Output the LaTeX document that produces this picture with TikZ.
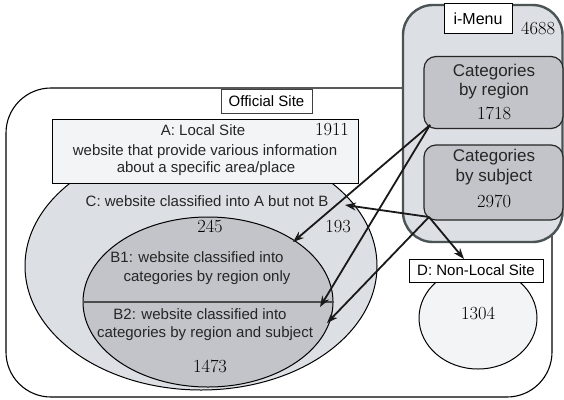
\documentclass[tikz,border=0pt]{standalone}
\usepackage{fontspec}
\usetikzlibrary{arrows.meta,shapes.geometric}
\newfontfamily\labelfont{Liberation Sans}
\definecolor{paleblue}{HTML}{DCDFE4}
\definecolor{midgray}{HTML}{C2C4C9}
\definecolor{boxwhite}{HTML}{F3F4F6}
\definecolor{slate}{HTML}{4B5454}
\tikzset{
  lbl/.style={font=\labelfont\fontsize{15}{18}\selectfont, text=black!85, inner sep=0pt, anchor=mid},
  biglbl/.style={font=\labelfont\fontsize{17}{20}\selectfont, text=black!85, inner sep=0pt, anchor=mid},
  num/.style={font=\fontsize{18.5}{21}\selectfont, text=black, inner sep=0pt, anchor=mid},
  tagbox/.style={draw=black!75, fill=white, line width=0.7pt, inner sep=0pt},
  catbox/.style={draw=black!85, fill=midgray, rounded corners=12pt, line width=1.2pt,
                 minimum width=139pt, minimum height=72pt, inner sep=0pt},
  arr/.style={-{Stealth[length=11pt,width=8pt]}, line width=1.8pt, black!90},
}
\begin{document}
\begin{tikzpicture}[x=1pt,y=-1pt]
%\draw[step=20,gray,very thin] (0,0) grid (564,399);
\useasboundingbox (0,0) rectangle (564,399);

% official site frame
\draw[line width=1.1pt, rounded corners=45pt] (6,88) rectangle (552,397);

% C and B sets
\node[ellipse, draw, fill=paleblue, line width=1pt, inner sep=0pt,
      minimum width=352pt, minimum height=248pt] (C) at (201,266) {};
\node[draw, fill=boxwhite, line width=1pt, inner sep=0pt,
      minimum width=306pt, minimum height=64pt] (A) at (205,151) {};
\node[tagbox, font=\labelfont\fontsize{15}{18}\selectfont, minimum width=91pt, minimum height=24pt]
      (official) at (266.5,101) {Official Site};
\node[ellipse, draw, fill=midgray, line width=1pt, inner sep=0pt,
      minimum width=250pt, minimum height=170pt] (B) at (208,302) {};
\draw[line width=1.5pt, black!70] (B.west) -- (B.east);

\node[lbl] (atitle) at (203,133) {A: Local Site};
\node[num] (anum) at (332,133) {1911};
\node[lbl] (aline1) at (205,153) {website that provide various information};
\node[lbl] (aline2) at (206,170) {about a specific area/place};

\node[lbl] (ctitle) at (207,204) {C: website classified into A but not B};
\node[num] (bonenum) at (210,230) {245};
\node[num] (cnum) at (338,230) {193};
\node[lbl] (bone1) at (197,260) {B1: website classified into};
\node[lbl] (bone2) at (207,279) {categories by region only};
\node[lbl] (btwo1) at (200,317) {B2: website classified into};
\node[lbl] (btwo2) at (205,335) {categories by region and subject};
\node[num] (btwonum) at (210,370) {1473};

% i-Menu
\draw[line width=2.4pt, draw=slate, fill=paleblue, rounded corners=30pt] (403,5) rectangle (562.5,242);
\node[tagbox, font=\labelfont\fontsize{16}{19}\selectfont, line width=0.9pt, draw=black,
      minimum width=68pt, minimum height=30pt] (imenu) at (478,18.5) {i-Menu};
\node[num] (imenunum) at (538,32) {4688};

\node[catbox] (region) at (493.5,92.5) {};
\node[biglbl] (region1) at (494,74) {Categories};
\node[biglbl] (region2) at (494,93) {by region};
\node[num] (regionnum) at (494,117) {1718};

\node[catbox, minimum height=75pt] (subject) at (493.5,182.5) {};
\node[biglbl] (subject1) at (494,159) {Categories};
\node[biglbl] (subject2) at (494,179) {by subject};
\node[num] (subjectnum) at (494,205) {2970};

% D: non-local
\node[ellipse, draw, fill=boxwhite, line width=1pt, inner sep=0pt,
      minimum width=118pt, minimum height=102pt] (Dset) at (478,318) {};
\node[num] (dnum) at (478,317) {1304};
\node[tagbox, font=\labelfont\fontsize{15}{18}\selectfont, draw=black, minimum width=134pt, minimum height=23pt]
      (D) at (476,270.5) {D: Non-Local Site};

% arrows
\coordinate (rg) at (430,125);
\coordinate (sb) at (429,217);
\coordinate (toBone) at (293,242);
\coordinate (toBtwoA) at (320,307);
\coordinate (toBtwoB) at (327,323);
\coordinate (toC) at (345,205);
\coordinate (toD) at (464,259);

\draw[arr] (rg) -- (toBone);
\draw[arr] (rg) -- (toBtwoA);
\draw[arr] (sb) -- (toC);
\draw[arr] (sb) -- (toBtwoB);
\draw[arr] (sb) -- (toD);

\end{tikzpicture}
\end{document}
